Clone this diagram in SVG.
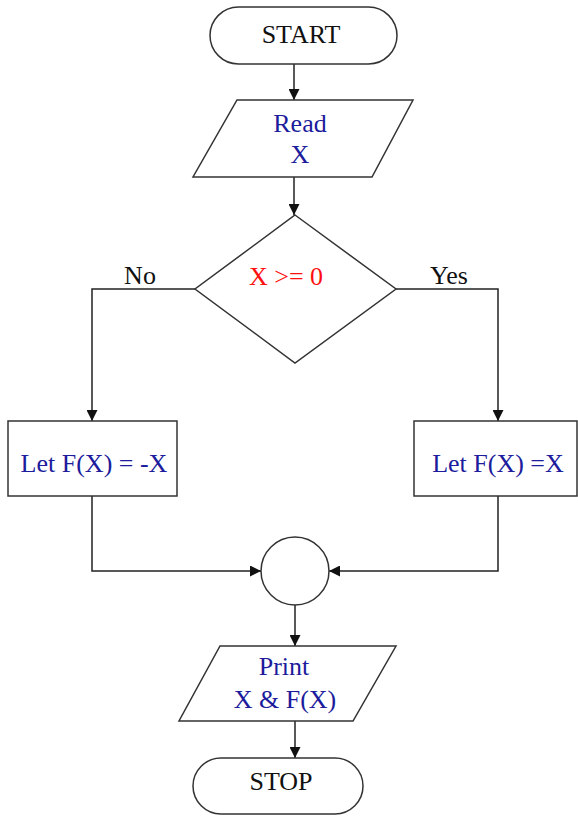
<svg xmlns="http://www.w3.org/2000/svg" width="578" height="816" viewBox="0 0 578 816">
<style>
.shape{fill:#fff;stroke:#333;stroke-width:1.5}
.line{fill:none;stroke:#222;stroke-width:1.5}
text{font-family:"Liberation Serif","Times New Roman",serif;font-size:26px;text-anchor:middle}
.k{fill:#111}
.b{fill:#1c1c9c}
.r{fill:#ff1010}
</style>
<defs>
<marker id="ah" viewBox="0 0 10 10" refX="10" refY="5" markerWidth="11" markerHeight="11" markerUnits="userSpaceOnUse" orient="auto">
<path d="M0,0 L10,5 L0,10 z" fill="#111"/>
</marker>
</defs>
<rect width="578" height="816" fill="#fff"/>
<g id="connectors">
<line class="line" x1="294" y1="64" x2="294" y2="100" marker-end="url(#ah)"/>
<line class="line" x1="294" y1="177" x2="294" y2="215" marker-end="url(#ah)"/>
<polyline class="line" points="195,289 92,289 92,421" marker-end="url(#ah)"/>
<polyline class="line" points="396,289 498,289 498,421" marker-end="url(#ah)"/>
<polyline class="line" points="92,496 92,571 261,571" marker-end="url(#ah)"/>
<polyline class="line" points="498,496 498,571 329,571" marker-end="url(#ah)"/>
<line class="line" x1="295" y1="605" x2="295" y2="646" marker-end="url(#ah)"/>
<line class="line" x1="295" y1="721" x2="295" y2="758" marker-end="url(#ah)"/>
<text class="k" x="140" y="284">No</text>
<text class="k" x="449" y="284">Yes</text>
</g>
<g id="start">
<rect class="shape" x="210" y="7" width="187" height="57" rx="28.5"/>
<text class="k" x="301" y="43">START</text>
</g>
<g id="read">
<polygon class="shape" points="237,100 413,100 372,177 193,177"/>
<text class="b" x="300" y="132">Read</text>
<text class="b" x="300" y="163">X</text>
</g>
<g id="decision">
<polygon class="shape" points="295,215 396,289 295,363 195,289"/>
<text class="r" x="286" y="285">X &gt;= 0</text>
</g>
<g id="neg">
<rect class="shape" x="8" y="421" width="169" height="75"/>
<text class="b" x="94" y="472">Let F(X) = -X</text>
</g>
<g id="pos">
<rect class="shape" x="414" y="421" width="163" height="75"/>
<text class="b" x="498" y="472">Let F(X) =X</text>
</g>
<g id="join">
<circle class="shape" cx="295" cy="571" r="34"/>
</g>
<g id="print">
<polygon class="shape" points="220,646 396,646 353,721 179,721"/>
<text class="b" x="284" y="675">Print</text>
<text class="b" x="285" y="708">X &amp; F(X)</text>
</g>
<g id="stop">
<rect class="shape" x="193" y="758" width="170" height="56" rx="28"/>
<text class="k" x="281" y="790">STOP</text>
</g>
</svg>
